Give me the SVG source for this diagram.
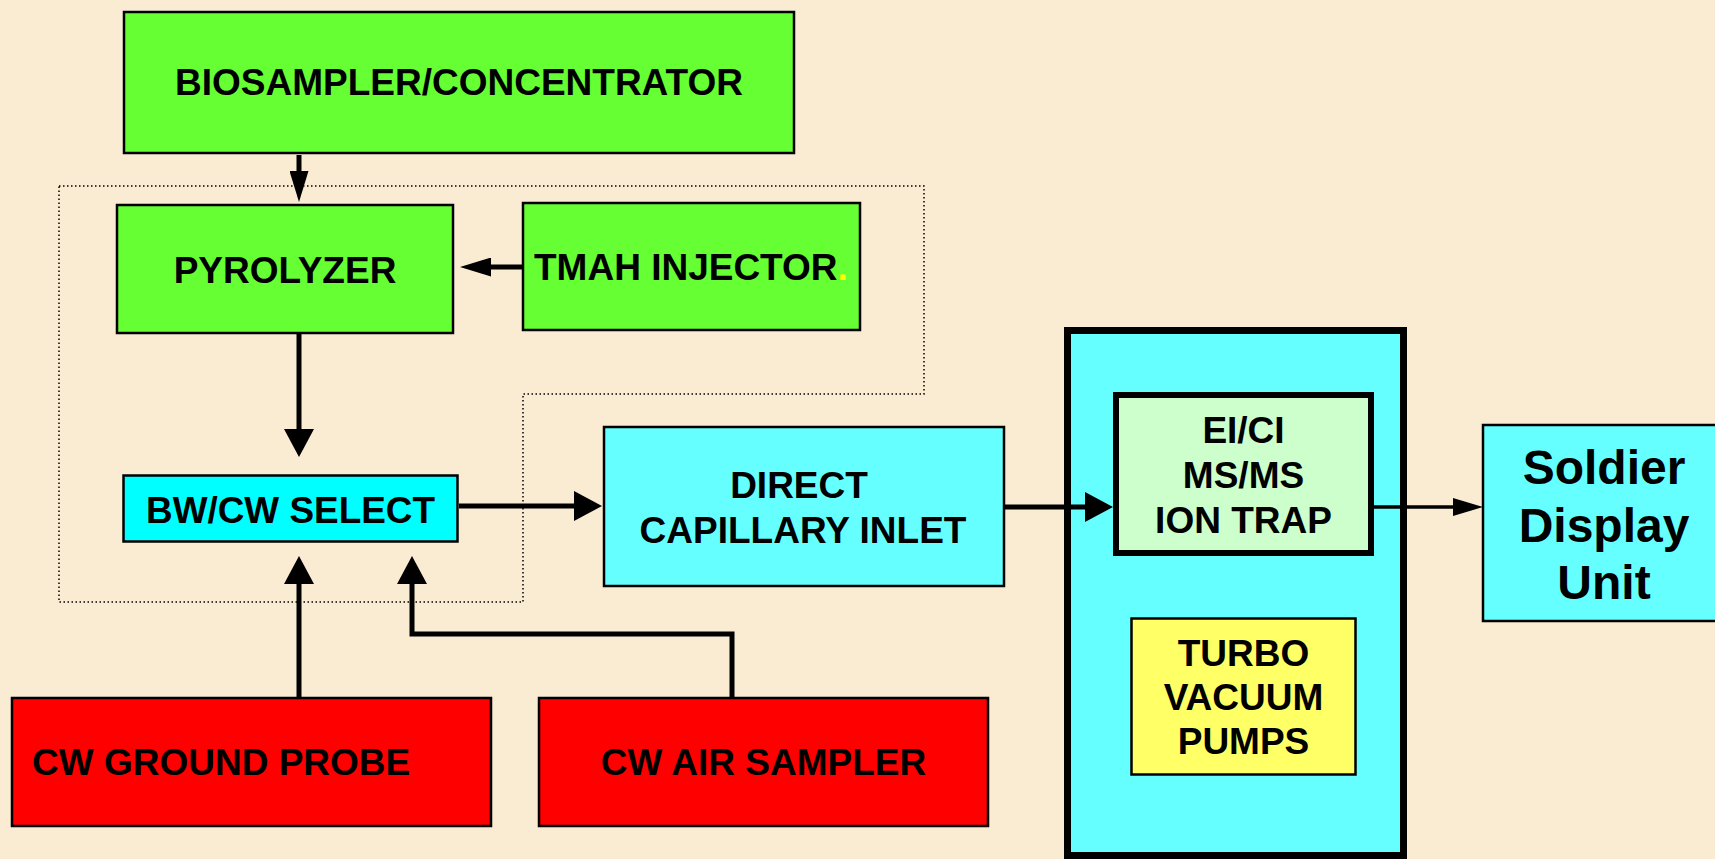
<svg xmlns="http://www.w3.org/2000/svg" width="1715" height="859" viewBox="0 0 1715 859">
  <style>
    .box { stroke: #000; stroke-width: 2.5; }
    .green { fill: #66FF33; }
    .cyan { fill: #00FFFF; }
    .lcyan { fill: #66FFFF; }
    .red { fill: #FF0000; }
    .mint { fill: #CCFFCC; }
    .yellow { fill: #FFFF66; }
    .t { font-family: "Liberation Sans", Arial, Helvetica, sans-serif; font-weight: bold; font-size: 37px; fill: #000; }
    .c { text-anchor: middle; }
    .big { font-size: 48px; }
    .conn { fill: none; stroke: #000; stroke-width: 5; stroke-linejoin: miter; }
    .thin { stroke-width: 3.5; }
    .dotted { fill: none; stroke: #000; stroke-width: 1.5; stroke-dasharray: 1.5 2.5; }
  </style>
  <defs>
    <marker id="ahSmall" viewBox="0 0 31 19" refX="4" refY="9.5" markerWidth="31" markerHeight="19" markerUnits="userSpaceOnUse" orient="auto">
      <path d="M0,0 L31,9.5 L0,19 Z" fill="#000"/>
    </marker>
    <marker id="ahBig" viewBox="0 0 28 30" refX="4" refY="15" markerWidth="28" markerHeight="30" markerUnits="userSpaceOnUse" orient="auto">
      <path d="M0,0 L28,15 L0,30 Z" fill="#000"/>
    </marker>
    <marker id="ahThin" viewBox="0 0 30 18" refX="4" refY="9" markerWidth="30" markerHeight="18" markerUnits="userSpaceOnUse" orient="auto">
      <path d="M0,0 L30,9 L0,18 Z" fill="#000"/>
    </marker>
  </defs>

  <rect x="0" y="0" width="1715" height="859" fill="#FAEBD3"/>

  <path class="dotted" d="M59,186 H924 V394 H523 V602 H59 Z"/>

  <g id="biosampler">
    <rect class="box green" x="124" y="12" width="670" height="141"/>
    <text class="t c" x="459" y="95">BIOSAMPLER/CONCENTRATOR</text>
  </g>
  <g id="pyrolyzer">
    <rect class="box green" x="117" y="205" width="336" height="128"/>
    <text class="t c" x="285" y="283">PYROLYZER</text>
  </g>
  <g id="tmah-injector">
    <rect class="box green" x="523" y="203" width="337" height="127"/>
    <text class="t" x="534" y="280">TMAH INJECTOR<tspan fill="#FFFF00">.</tspan></text>
  </g>
  <g id="bwcw-select">
    <rect class="box cyan" x="123.5" y="475.5" width="334" height="66"/>
    <text class="t c" x="290.5" y="523" textLength="289" lengthAdjust="spacingAndGlyphs">BW/CW SELECT</text>
  </g>
  <g id="direct-capillary-inlet">
    <rect class="box lcyan" x="604" y="427" width="400" height="159"/>
    <text class="t c" x="799" y="498">DIRECT</text>
    <text class="t c" x="803" y="543">CAPILLARY INLET</text>
  </g>
  <g id="cw-ground-probe">
    <rect class="box red" x="12" y="698" width="479" height="128"/>
    <text class="t" x="32" y="775">CW GROUND PROBE</text>
  </g>
  <g id="cw-air-sampler">
    <rect class="box red" x="539" y="698" width="449" height="128"/>
    <text class="t c" x="763.5" y="775">CW AIR SAMPLER</text>
  </g>
  <g id="ms-unit">
    <rect x="1067.5" y="330.5" width="336" height="525" fill="#66FFFF" stroke="#000" stroke-width="7"/>
  </g>
  <g id="eici-ion-trap">
    <rect x="1116" y="395" width="255" height="158" fill="#CCFFCC" stroke="#000" stroke-width="6"/>
    <text class="t c" x="1243.5" y="443">EI/CI</text>
    <text class="t c" x="1243.5" y="488">MS/MS</text>
    <text class="t c" x="1243.5" y="533">ION TRAP</text>
  </g>
  <g id="turbo-vacuum-pumps">
    <rect class="box yellow" x="1131.5" y="618.5" width="224" height="156"/>
    <text class="t c" x="1243.5" y="666">TURBO</text>
    <text class="t c" x="1243.5" y="710">VACUUM</text>
    <text class="t c" x="1243.5" y="754">PUMPS</text>
  </g>
  <g id="soldier-display-unit">
    <rect class="box lcyan" x="1483" y="425" width="260" height="196"/>
    <text class="t c big" x="1604" y="484">Soldier</text>
    <text class="t c big" x="1604" y="542">Display</text>
    <text class="t c big" x="1604" y="599">Unit</text>
  </g>

  <g id="connectors">
    <path class="conn" d="M299,155 V175" marker-end="url(#ahSmall)"/>
    <path class="conn" d="M522,267 H487" marker-end="url(#ahSmall)"/>
    <path class="conn" d="M299,334 V433" marker-end="url(#ahBig)"/>
    <path class="conn" d="M459,506 H578" marker-end="url(#ahBig)"/>
    <path class="conn" d="M299,697 V580" marker-end="url(#ahBig)"/>
    <path class="conn" d="M732,697 V634 H412 V580" marker-end="url(#ahBig)"/>
    <path class="conn" d="M1005,507 H1089" marker-end="url(#ahBig)"/>
    <path class="conn thin" d="M1374,507 H1457" marker-end="url(#ahThin)"/>
  </g>
</svg>
